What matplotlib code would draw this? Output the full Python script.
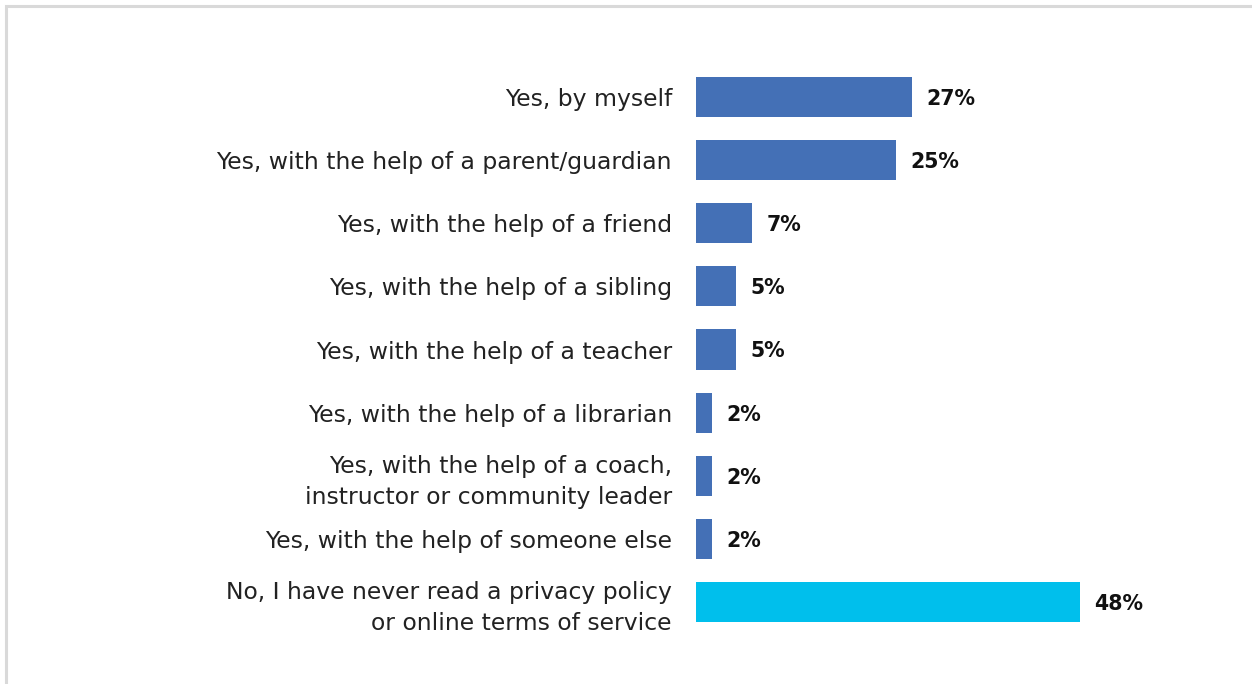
import matplotlib
matplotlib.use("Agg")
import matplotlib.pyplot as plt
from matplotlib.patches import Rectangle

categories = [
    "Yes, by myself",
    "Yes, with the help of a parent/guardian",
    "Yes, with the help of a friend",
    "Yes, with the help of a sibling",
    "Yes, with the help of a teacher",
    "Yes, with the help of a librarian",
    "Yes, with the help of a coach,\ninstructor or community leader",
    "Yes, with the help of someone else",
    "No, I have never read a privacy policy\nor online terms of service",
]
values = [27, 25, 7, 5, 5, 2, 2, 2, 48]
colors = ["#4470B6"] * 8 + ["#00BFEC"]

plt.rcParams["font.family"] = ["DejaVu Sans"]

W, H = 1252, 684
fig = plt.figure(figsize=(W / 100, H / 100), dpi=100)

# light frame along the top and left edges
fig.add_artist(Rectangle((6 / W, -0.1), 2.0, 1.1 - 6 / H, transform=fig.transFigure,
                         fill=False, edgecolor="#d9d9d9", linewidth=2.2))

top_px, step = 97, 63.125
y_top = top_px - step / 2
y_bot = top_px + step * 8 + step / 2
left_px = 696
xmax = 60
ax = fig.add_axes([left_px / W, 1 - y_bot / H, xmax * 8 / W, (y_bot - y_top) / H])

ypos = list(range(len(categories)))
ax.barh(ypos, values, height=0.635, color=colors, left=0)
ax.set_xlim(0, xmax)
ax.set_ylim(len(categories) - 0.5, -0.5)

for y, v in zip(ypos, values):
    ax.text(v + 1.8, y + 0.03, f"{v}%", va="center", ha="left",
            fontsize=14.8, fontweight="bold", color="#111111")

ax.set_yticks(ypos)
ax.set_yticklabels(categories, fontsize=16.9, color="#222222", linespacing=1.42)
ax.tick_params(axis="y", length=0, pad=17.3)
ax.set_xticks([])
for s in ax.spines.values():
    s.set_visible(False)

fig.savefig("out.png", dpi=100, facecolor="white")
